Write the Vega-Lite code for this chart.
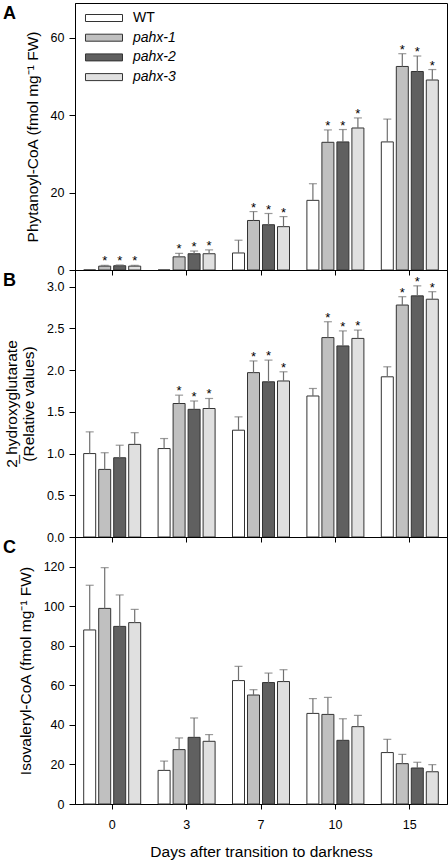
{
  "$schema": "https://vega.github.io/schema/vega-lite/v6.json",
  "padding": {"left": 2, "top": 2, "right": 0, "bottom": 0},
  "background": "white",
  "spacing": 0,
  "bounds": "flush",
  "datasets": {
    "A": [
      {"day": 0, "geno": "WT", "v": 0, "hi": 0, "sig": 0},
      {"day": 0, "geno": "pahx-1", "v": 1.0, "hi": 1.2, "sig": 1},
      {"day": 0, "geno": "pahx-2", "v": 1.1, "hi": 1.3, "sig": 1},
      {"day": 0, "geno": "pahx-3", "v": 1.0, "hi": 1.2, "sig": 1},
      {"day": 3, "geno": "WT", "v": 0, "hi": 0, "sig": 0},
      {"day": 3, "geno": "pahx-1", "v": 3.4, "hi": 4.3, "sig": 1},
      {"day": 3, "geno": "pahx-2", "v": 4.2, "hi": 4.9, "sig": 1},
      {"day": 3, "geno": "pahx-3", "v": 4.2, "hi": 5.2, "sig": 1},
      {"day": 7, "geno": "WT", "v": 4.4, "hi": 7.7, "sig": 0},
      {"day": 7, "geno": "pahx-1", "v": 12.8, "hi": 15.1, "sig": 1},
      {"day": 7, "geno": "pahx-2", "v": 11.7, "hi": 14.6, "sig": 1},
      {"day": 7, "geno": "pahx-3", "v": 11.2, "hi": 13.8, "sig": 1},
      {"day": 10, "geno": "WT", "v": 18.0, "hi": 22.3, "sig": 0},
      {"day": 10, "geno": "pahx-1", "v": 33.0, "hi": 36.2, "sig": 1},
      {"day": 10, "geno": "pahx-2", "v": 33.1, "hi": 36.3, "sig": 1},
      {"day": 10, "geno": "pahx-3", "v": 36.7, "hi": 39.3, "sig": 1},
      {"day": 15, "geno": "WT", "v": 33.1, "hi": 39.0, "sig": 0},
      {"day": 15, "geno": "pahx-1", "v": 52.6, "hi": 55.9, "sig": 1},
      {"day": 15, "geno": "pahx-2", "v": 51.3, "hi": 55.3, "sig": 1},
      {"day": 15, "geno": "pahx-3", "v": 49.1, "hi": 51.8, "sig": 1}
    ],
    "B": [
      {"day": 0, "geno": "WT", "v": 1.00, "hi": 1.26, "sig": 0},
      {"day": 0, "geno": "pahx-1", "v": 0.81, "hi": 1.01, "sig": 0},
      {"day": 0, "geno": "pahx-2", "v": 0.95, "hi": 1.10, "sig": 0},
      {"day": 0, "geno": "pahx-3", "v": 1.11, "hi": 1.25, "sig": 0},
      {"day": 3, "geno": "WT", "v": 1.06, "hi": 1.18, "sig": 0},
      {"day": 3, "geno": "pahx-1", "v": 1.60, "hi": 1.70, "sig": 1},
      {"day": 3, "geno": "pahx-2", "v": 1.53, "hi": 1.63, "sig": 1},
      {"day": 3, "geno": "pahx-3", "v": 1.54, "hi": 1.66, "sig": 1},
      {"day": 7, "geno": "WT", "v": 1.28, "hi": 1.44, "sig": 0},
      {"day": 7, "geno": "pahx-1", "v": 1.97, "hi": 2.11, "sig": 1},
      {"day": 7, "geno": "pahx-2", "v": 1.86, "hi": 2.12, "sig": 1},
      {"day": 7, "geno": "pahx-3", "v": 1.87, "hi": 1.98, "sig": 1},
      {"day": 10, "geno": "WT", "v": 1.69, "hi": 1.78, "sig": 0},
      {"day": 10, "geno": "pahx-1", "v": 2.39, "hi": 2.58, "sig": 1},
      {"day": 10, "geno": "pahx-2", "v": 2.29, "hi": 2.47, "sig": 1},
      {"day": 10, "geno": "pahx-3", "v": 2.38, "hi": 2.48, "sig": 1},
      {"day": 15, "geno": "WT", "v": 1.92, "hi": 2.04, "sig": 0},
      {"day": 15, "geno": "pahx-1", "v": 2.78, "hi": 2.88, "sig": 1},
      {"day": 15, "geno": "pahx-2", "v": 2.89, "hi": 3.01, "sig": 1},
      {"day": 15, "geno": "pahx-3", "v": 2.85, "hi": 2.94, "sig": 1}
    ],
    "C": [
      {"day": 0, "geno": "WT", "v": 88.0, "hi": 110.6, "sig": 0},
      {"day": 0, "geno": "pahx-1", "v": 98.9, "hi": 119.5, "sig": 0},
      {"day": 0, "geno": "pahx-2", "v": 89.8, "hi": 105.7, "sig": 0},
      {"day": 0, "geno": "pahx-3", "v": 91.7, "hi": 98.4, "sig": 0},
      {"day": 3, "geno": "WT", "v": 17.0, "hi": 21.7, "sig": 0},
      {"day": 3, "geno": "pahx-1", "v": 27.5, "hi": 33.4, "sig": 0},
      {"day": 3, "geno": "pahx-2", "v": 33.7, "hi": 43.5, "sig": 0},
      {"day": 3, "geno": "pahx-3", "v": 31.7, "hi": 35.1, "sig": 0},
      {"day": 7, "geno": "WT", "v": 62.4, "hi": 69.6, "sig": 0},
      {"day": 7, "geno": "pahx-1", "v": 55.1, "hi": 57.8, "sig": 0},
      {"day": 7, "geno": "pahx-2", "v": 61.4, "hi": 66.2, "sig": 0},
      {"day": 7, "geno": "pahx-3", "v": 61.9, "hi": 67.9, "sig": 0},
      {"day": 10, "geno": "WT", "v": 45.8, "hi": 53.3, "sig": 0},
      {"day": 10, "geno": "pahx-1", "v": 45.3, "hi": 53.9, "sig": 0},
      {"day": 10, "geno": "pahx-2", "v": 32.2, "hi": 43.1, "sig": 0},
      {"day": 10, "geno": "pahx-3", "v": 39.1, "hi": 44.8, "sig": 0},
      {"day": 15, "geno": "WT", "v": 26.0, "hi": 32.7, "sig": 0},
      {"day": 15, "geno": "pahx-1", "v": 20.4, "hi": 25.1, "sig": 0},
      {"day": 15, "geno": "pahx-2", "v": 18.2, "hi": 21.1, "sig": 0},
      {"day": 15, "geno": "pahx-3", "v": 16.3, "hi": 19.9, "sig": 0}
    ]
  },
  "resolve": {"scale": {"fill": "independent", "y": "independent"}, "legend": {"fill": "independent"}},
  "vconcat": [
    {
      "width": 372, "height": 267,
      "data": {"name": "A"},
      "title": {"text": "A", "anchor": "start", "frame": "group", "orient": "none", "baseline": "top", "offset": 0, "dx": -72, "dy": 2, "fontSize": 18, "fontWeight": "bold", "font": "Liberation Sans", "color": "black"},
      "encoding": {
        "x": {"field": "day", "type": "ordinal", "scale": {"paddingInner": 0, "paddingOuter": 0}, "axis": {"title": null, "labels": false, "tickSize": 5}},
        "xOffset": {"field": "geno", "type": "nominal", "scale": {"domain": ["WT", "pahx-1", "pahx-2", "pahx-3"], "paddingInner": 0.2, "paddingOuter": 0.58}}
      },
      "layer": [
        {
          "mark": {"type": "bar", "stroke": "#333", "strokeWidth": 1},
          "encoding": {
            "y": {"field": "v", "type": "quantitative", "scale": {"domain": [0, 69], "nice": false}, "axis": {"title": "Phytanoyl-CoA (fmol mg⁻¹ FW)", "values": [0, 20, 40, 60]}},
            "fill": {"field": "geno", "type": "nominal", "scale": {"domain": ["WT", "pahx-1", "pahx-2", "pahx-3"], "range": ["#ffffff", "#c0c0c0", "#606060", "#e0e0e0"]},
              "legend": {"title": null, "orient": "none", "legendX": 22, "legendY": 8, "padding": 0, "symbolType": "M-5.29,-1H5.29V1H-5.29Z", "symbolSize": 49, "symbolStrokeColor": "#333", "symbolStrokeWidth": 1, "labelFontSize": 14, "labelFont": "Liberation Sans", "labelColor": "black", "labelOffset": 22, "rowPadding": 5.7,
                "encode": {"labels": {"update": {"fontStyle": {"signal": "datum.value === 'WT' ? 'normal' : 'italic'"}}}}}}
          }
        },
        {
          "transform": [{"filter": "datum.hi > datum.v"}],
          "mark": {"type": "rule", "color": "#707070", "strokeWidth": 1.2},
          "encoding": {"y": {"field": "v", "type": "quantitative"}, "y2": {"field": "hi"}}
        },
        {
          "transform": [{"filter": "datum.hi > datum.v"}],
          "mark": {"type": "tick", "color": "#707070", "thickness": 1.2, "size": 8, "orient": "horizontal"},
          "encoding": {"y": {"field": "hi", "type": "quantitative"}}
        },
        {
          "transform": [{"filter": "datum.sig == 1"}],
          "mark": {"type": "text", "text": "*", "fontSize": 13, "baseline": "alphabetic", "dy": 0, "font": "Liberation Sans", "color": "black"},
          "encoding": {"y": {"field": "hi", "type": "quantitative"}}
        }
      ]
    },
    {
      "width": 372, "height": 267,
      "data": {"name": "B"},
      "title": {"text": "B", "anchor": "start", "frame": "group", "orient": "none", "baseline": "top", "offset": 0, "dx": -72, "dy": 2, "fontSize": 18, "fontWeight": "bold", "font": "Liberation Sans", "color": "black"},
      "encoding": {
        "x": {"field": "day", "type": "ordinal", "scale": {"paddingInner": 0, "paddingOuter": 0}, "axis": {"title": null, "labels": false, "tickSize": 5}},
        "xOffset": {"field": "geno", "type": "nominal", "scale": {"domain": ["WT", "pahx-1", "pahx-2", "pahx-3"], "paddingInner": 0.2, "paddingOuter": 0.58}}
      },
      "layer": [
        {
          "mark": {"type": "bar", "stroke": "#333", "strokeWidth": 1},
          "encoding": {
            "y": {"field": "v", "type": "quantitative", "scale": {"domain": [0, 3.2], "nice": false}, "axis": {"title": ["2̲ hydroxyglutarate", "(Relative values)"], "values": [0, 0.5, 1, 1.5, 2, 2.5, 3], "format": ".1f"}},
            "fill": {"field": "geno", "type": "nominal", "scale": {"domain": ["WT", "pahx-1", "pahx-2", "pahx-3"], "range": ["#ffffff", "#c0c0c0", "#606060", "#e0e0e0"]}, "legend": null}
          }
        },
        {
          "transform": [{"filter": "datum.hi > datum.v"}],
          "mark": {"type": "rule", "color": "#707070", "strokeWidth": 1.2},
          "encoding": {"y": {"field": "v", "type": "quantitative"}, "y2": {"field": "hi"}}
        },
        {
          "transform": [{"filter": "datum.hi > datum.v"}],
          "mark": {"type": "tick", "color": "#707070", "thickness": 1.2, "size": 8, "orient": "horizontal"},
          "encoding": {"y": {"field": "hi", "type": "quantitative"}}
        },
        {
          "transform": [{"filter": "datum.sig == 1"}],
          "mark": {"type": "text", "text": "*", "fontSize": 13, "baseline": "alphabetic", "dy": 0, "font": "Liberation Sans", "color": "black"},
          "encoding": {"y": {"field": "hi", "type": "quantitative"}}
        }
      ]
    },
    {
      "width": 372, "height": 267,
      "data": {"name": "C"},
      "title": {"text": "C", "anchor": "start", "frame": "group", "orient": "none", "baseline": "top", "offset": 0, "dx": -72, "dy": 2, "fontSize": 18, "fontWeight": "bold", "font": "Liberation Sans", "color": "black"},
      "encoding": {
        "x": {"field": "day", "type": "ordinal", "scale": {"paddingInner": 0, "paddingOuter": 0}, "axis": {"title": "Days after transition to darkness", "labelAngle": 0, "tickSize": 5, "labelPadding": 9, "titlePadding": 14}},
        "xOffset": {"field": "geno", "type": "nominal", "scale": {"domain": ["WT", "pahx-1", "pahx-2", "pahx-3"], "paddingInner": 0.2, "paddingOuter": 0.58}}
      },
      "layer": [
        {
          "mark": {"type": "bar", "stroke": "#333", "strokeWidth": 1},
          "encoding": {
            "y": {"field": "v", "type": "quantitative", "scale": {"domain": [0, 135], "nice": false}, "axis": {"title": "Isovaleryl-CoA (fmol mg⁻¹ FW)", "values": [0, 20, 40, 60, 80, 100, 120]}},
            "fill": {"field": "geno", "type": "nominal", "scale": {"domain": ["WT", "pahx-1", "pahx-2", "pahx-3"], "range": ["#ffffff", "#c0c0c0", "#606060", "#e0e0e0"]}, "legend": null}
          }
        },
        {
          "transform": [{"filter": "datum.hi > datum.v"}],
          "mark": {"type": "rule", "color": "#707070", "strokeWidth": 1.2},
          "encoding": {"y": {"field": "v", "type": "quantitative"}, "y2": {"field": "hi"}}
        },
        {
          "transform": [{"filter": "datum.hi > datum.v"}],
          "mark": {"type": "tick", "color": "#707070", "thickness": 1.2, "size": 8, "orient": "horizontal"},
          "encoding": {"y": {"field": "hi", "type": "quantitative"}}
        }
      ]
    }
  ],
  "config": {
    "view": {"stroke": "#000", "strokeWidth": 1},
    "font": "Liberation Sans",
    "axis": {"grid": false, "domainColor": "#000", "tickColor": "#000", "labelColor": "#000", "titleColor": "#000", "labelFont": "Liberation Sans", "titleFont": "Liberation Sans", "labelFontSize": 12.5, "titleFontSize": 15.5, "titleFontWeight": "normal"},
    "axisY": {"tickSize": 6, "labelPadding": 5, "titlePadding": 10}
  }
}
